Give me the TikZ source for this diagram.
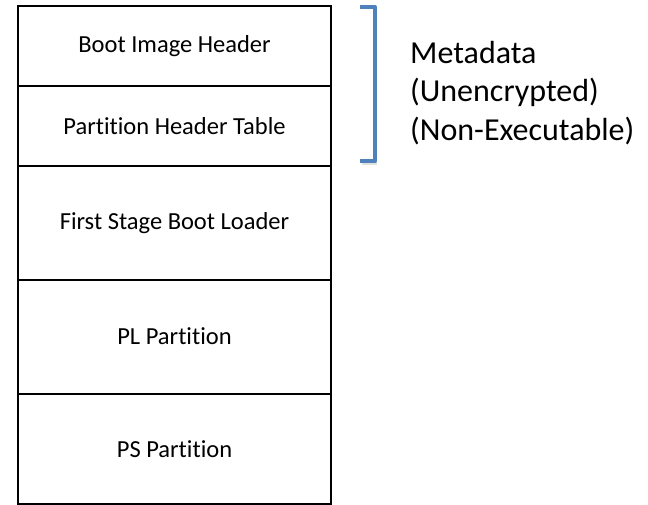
\documentclass[tikz,border=0pt]{standalone}
\usepackage{fontspec}
\setmainfont{Carlito}[Ligatures=NoCommon]
\definecolor{brk}{HTML}{4F81BD}
\begin{document}
\begin{tikzpicture}[x=1pt,y=-1pt,
  cell/.style={draw=black,line width=2pt,minimum width=313pt,inner sep=0pt,anchor=north west,font=\fontsize{24.5}{28}\selectfont},
  lbl/.style={anchor=base west,inner sep=0pt,font=\fontsize{32}{38.5}\selectfont}]
\useasboundingbox (0,0) rectangle (648,504);
\fill[white] (0,0) rectangle (648,504);
\node[cell,minimum height=80pt] (r1) at (17,5) {Boot Image Header};
\node[cell,minimum height=80pt] (r2) at (17,85) {Partition Header Table};
\node[cell,minimum height=113.5pt] (r3) at (17,165) {First Stage Boot Loader};
\node[cell,minimum height=114pt] (r4) at (17,278.5) {PL Partition};
\node[cell,minimum height=110.5pt] (r5) at (17,392.5) {PS Partition};
\coordinate (b1) at (360,7);
\coordinate (b2) at (375,7);
\coordinate (b3) at (375,161);
\coordinate (b4) at (360,161);
\draw[black!12,line width=4pt,line join=round] ([shift={(1.5,2)}]b3) -- ([shift={(1.5,2)}]b4);
\draw[brk,line width=4pt,line join=round] (b1) -- (b2) -- (b3) -- (b4);
\node[lbl] (m1) at (410,63) {Metadata};
\node[lbl] (m2) at (410,101.5) {(Unencrypted)};
\node[lbl] (m3) at (410,140) {(Non-Executable)};
\end{tikzpicture}
\end{document}
